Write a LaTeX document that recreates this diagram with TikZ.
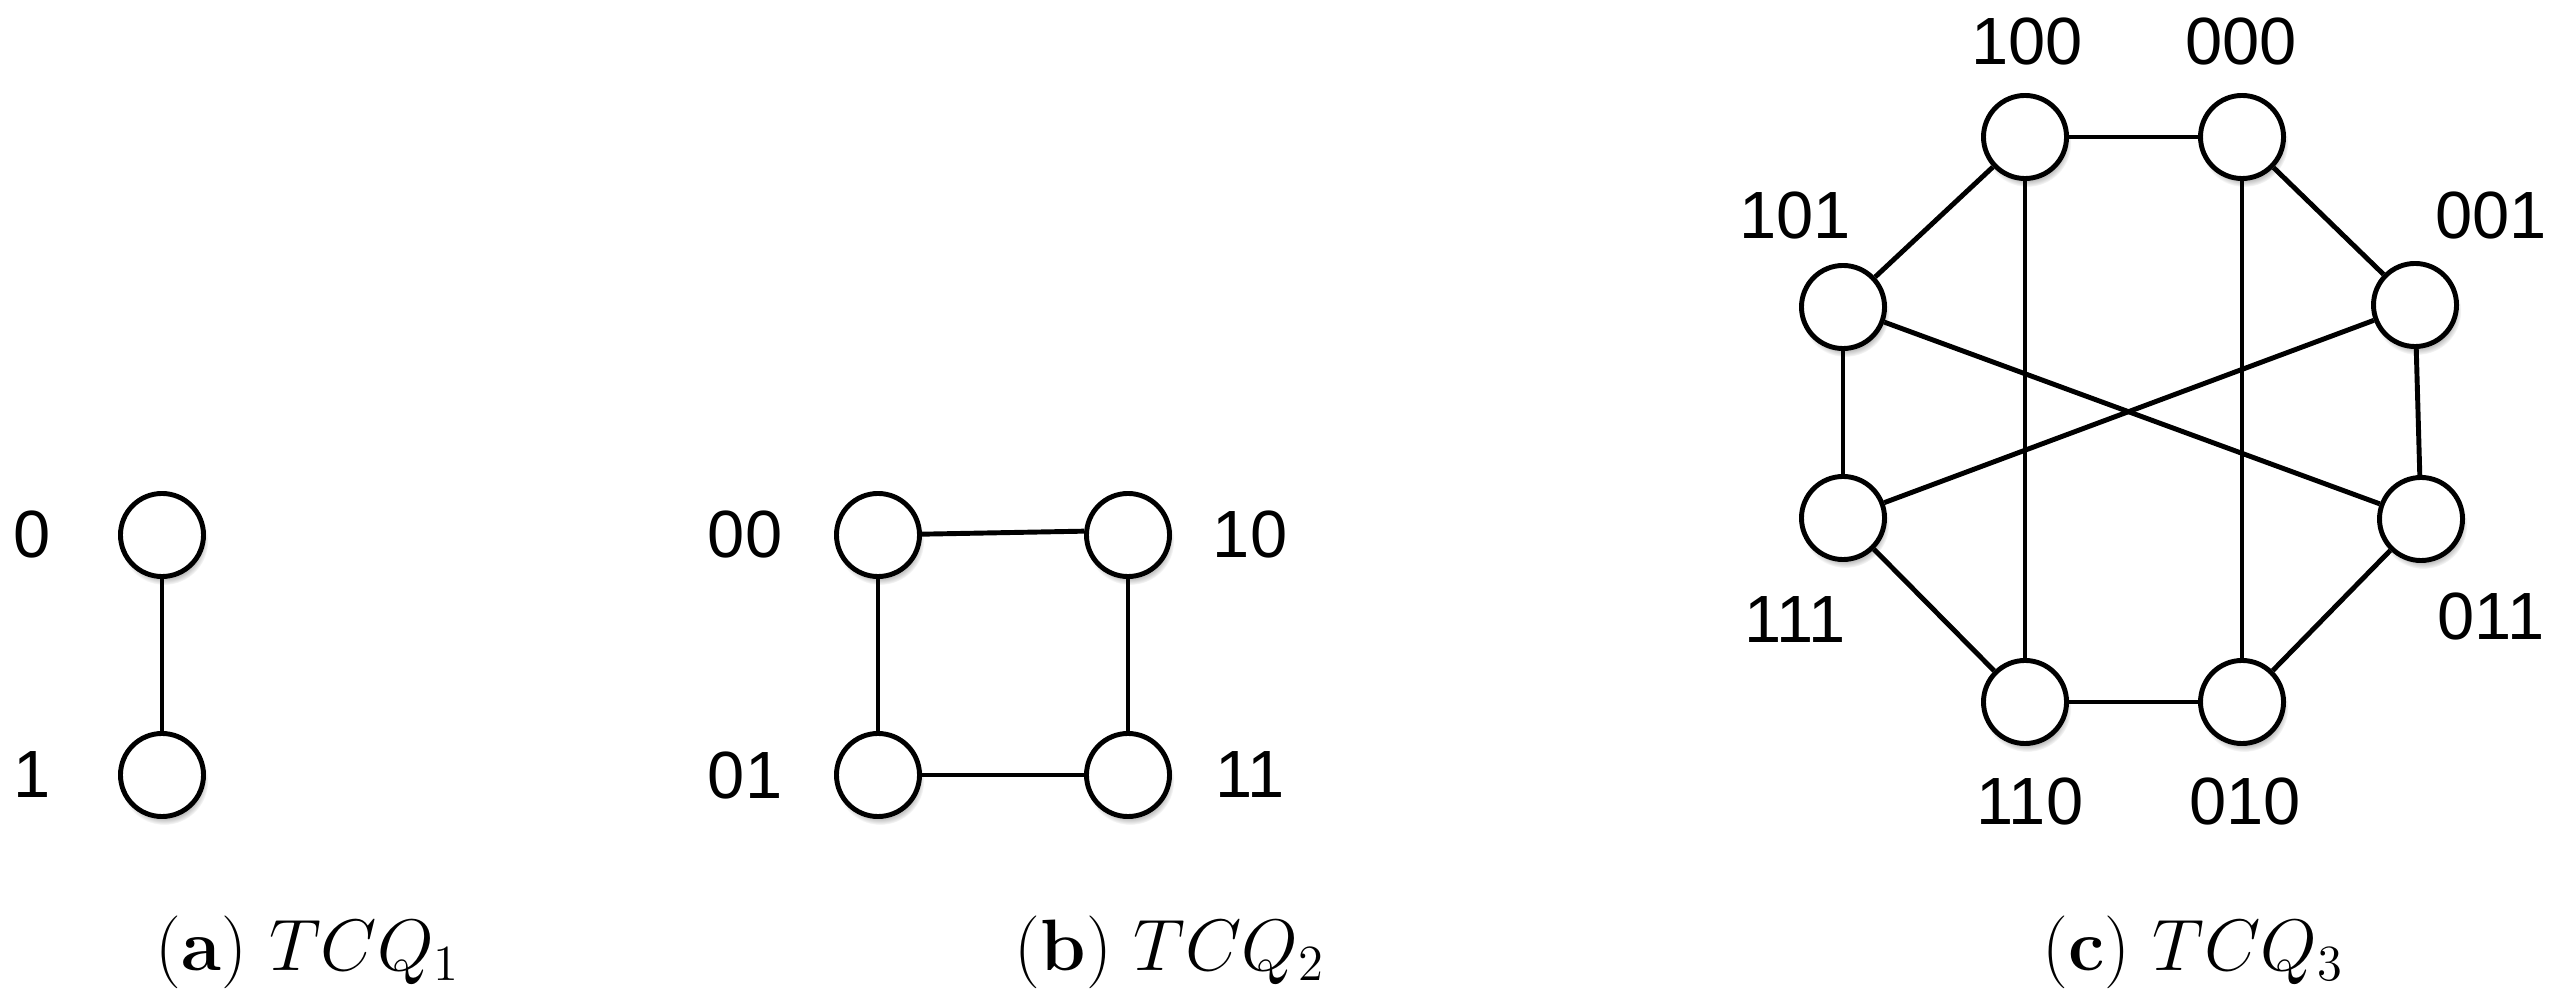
\documentclass[tikz,border=0pt]{standalone}
\usepackage{fontspec}
\newfontfamily\labfont{Liberation Sans}
\usetikzlibrary{shadows}
\begin{document}
\begin{tikzpicture}[x=0.01cm,y=-0.01cm,
  vtx/.style={circle,draw=black,fill=white,line width=1.4pt,minimum size=0.83cm,inner sep=0pt,
    circular drop shadow={shadow xshift=0.6pt,shadow yshift=-1.6pt,shadow scale=1.06,opacity=0.5}},
  lab/.style={inner sep=0pt,font=\labfont\fontsize{19}{22}\selectfont},
  captext/.style={inner sep=0pt,anchor=base,font=\fontsize{20.7}{24}\selectfont},
  edgeline/.style={line width=1.4pt}]
\useasboundingbox (0,0) rectangle (2558,1001);
% (a)
\node[vtx] (a0) at (162,535) {};
\node[vtx] (a1) at (162,775) {};
\node[lab] (la0) at (32,535) {0};
\node[lab] (la1) at (32,775) {1};
% (b)
\node[vtx] (b00) at (878,535) {};
\node[vtx] (b10) at (1128,535) {};
\node[vtx] (b01) at (878,775) {};
\node[vtx] (b11) at (1128,775) {};
\node[lab] (lb00) at (745,535) {00};
\node[lab] (lb10) at (1250,535) {10};
\node[lab] (lb01) at (745,775) {01};
\node[lab] (lb11) at (1250,775) {11};
% (c)
\node[vtx] (c100) at (2025,137) {};
\node[vtx] (c000) at (2242,137) {};
\node[vtx] (c101) at (1843,307) {};
\node[vtx] (c001) at (2415,305) {};
\node[vtx] (c111) at (1843,518) {};
\node[vtx] (c011) at (2421,519) {};
\node[vtx] (c110) at (2025,702) {};
\node[vtx] (c010) at (2242,702) {};
\node[lab] (lc100) at (2027,42) {100};
\node[lab] (lc000) at (2241,42) {000};
\node[lab] (lc101) at (1795,216) {101};
\node[lab] (lc001) at (2491,216) {001};
\node[lab] (lc111) at (1795,620) {111};
\node[lab] (lc011) at (2491,617) {011};
\node[lab] (lc110) at (2030,802) {110};
\node[lab] (lc010) at (2245,802) {010};
% edges
\draw[edgeline] (a0) -- (a1);
\draw[edgeline] (b00) -- (b10.175);
\draw[edgeline] (b00) -- (b01);
\draw[edgeline] (b10) -- (b11);
\draw[edgeline] (b01) -- (b11);
\draw[edgeline] (c100) -- (c000);
\draw[edgeline] (c100) -- (c101);
\draw[edgeline] (c000) -- (c001);
\draw[edgeline] (c101) -- (c111);
\draw[edgeline] (c001) -- (c011);
\draw[edgeline] (c111) -- (c110);
\draw[edgeline] (c011) -- (c010);
\draw[edgeline] (c110) -- (c010);
\draw[edgeline] (c100) -- (c110);
\draw[edgeline] (c000) -- (c010);
\draw[edgeline] (c101) -- (c011);
\draw[edgeline] (c001) -- (c111);
% captions
\node[captext] (capa) at (308,970) {(\textbf{a}) $TCQ_1$};
\node[captext] (capb) at (1170,970) {(\textbf{b}) $TCQ_2$};
\node[captext] (capc) at (2193,970) {(\textbf{c}) $TCQ_3$};
\end{tikzpicture}
\end{document}
